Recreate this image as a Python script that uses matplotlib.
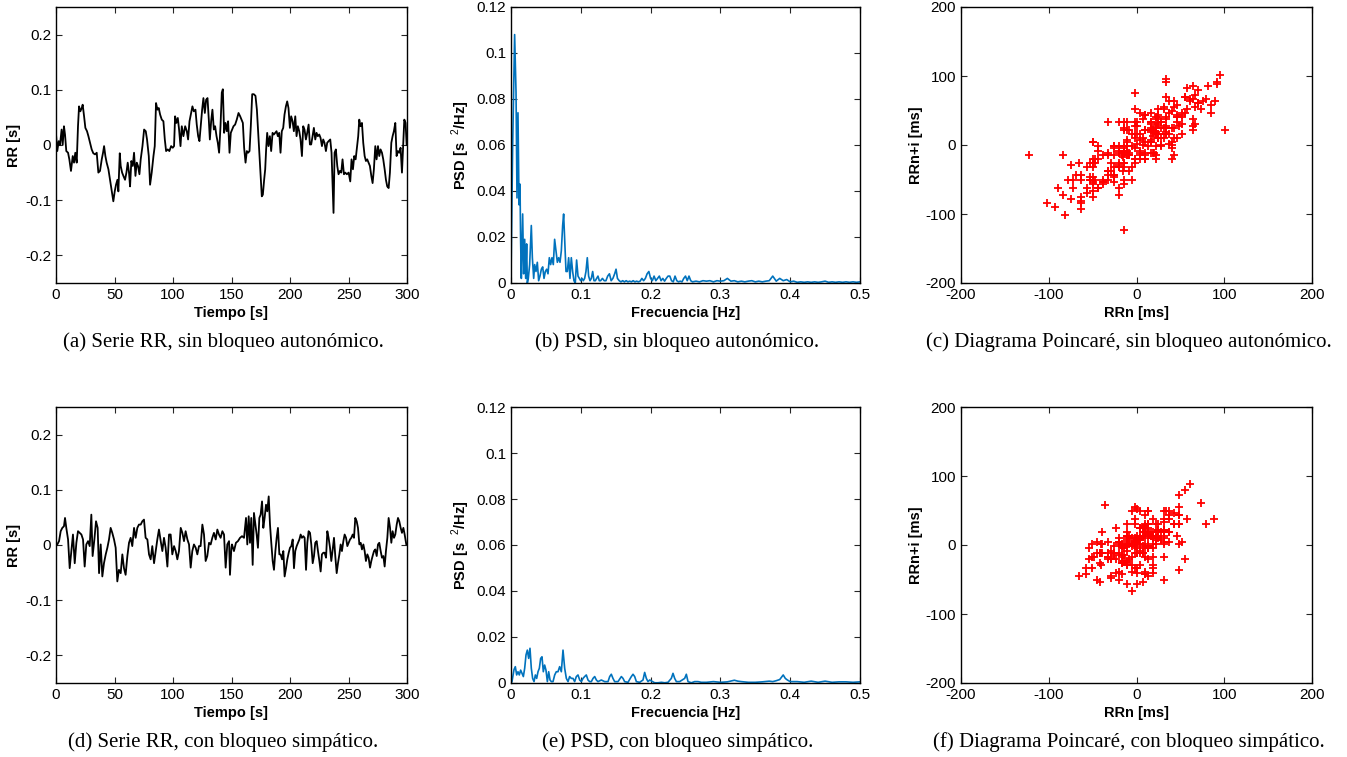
import matplotlib
matplotlib.use("Agg")
import matplotlib.pyplot as plt
import numpy as np
from matplotlib.ticker import FuncFormatter

plt.rcParams['font.family'] = ['Liberation Sans', 'DejaVu Sans']
plt.rcParams['axes.unicode_minus'] = False
plt.rcParams['mathtext.fontset'] = 'custom'
plt.rcParams['mathtext.rm'] = 'Liberation Sans'

# serie RR sin bloqueo (s)
t_a = [0.0, 1.1, 2.3, 3.4, 4.8, 5.7, 6.8, 7.7, 8.8, 10.3,
       11.4, 12.8, 14.3, 15.4, 16.5, 17.7, 18.8, 19.7, 20.8, 22.0,
       22.8, 24.0, 25.1, 26.5, 27.7, 29.1, 30.5, 31.9, 33.4, 34.8,
       36.2, 37.6, 39.1, 40.2, 41.1, 42.2, 43.3, 44.8, 46.2, 47.6,
       49.0, 50.2, 51.3, 52.5, 53.3, 54.5, 55.3, 56.5, 57.6, 59.0,
       60.2, 61.3, 62.4, 63.3, 64.4, 65.6, 66.7, 67.9, 69.0, 70.1,
       71.3, 72.4, 73.9, 75.3, 76.7, 77.8, 79.3, 80.4, 81.8, 83.3,
       84.4, 85.5, 86.7, 87.8, 89.0, 90.4, 91.8, 93.0, 94.1, 95.5,
       96.9, 98.4, 99.8, 100.9, 101.8, 102.9, 104.1, 105.2, 106.4, 107.5,
       108.9, 110.4, 111.8, 112.9, 114.1, 115.2, 116.6, 117.8, 119.2, 120.3,
       121.5, 122.6, 123.8, 124.9, 126.0, 127.2, 128.3, 129.5, 130.6, 131.5,
       132.6, 133.7, 134.9, 136.0, 137.2, 138.3, 139.4, 140.6, 141.7, 142.6,
       143.7, 144.9, 146.0, 147.1, 148.3, 149.4, 150.6, 151.7, 153.1, 154.5,
       156.0, 157.4, 158.5, 159.7, 160.8, 162.0, 163.1, 164.2, 165.4, 166.5,
       167.7, 169.1, 170.5, 171.7, 172.8, 173.9, 175.1, 175.9, 176.8, 177.9,
       178.8, 179.6, 180.5, 181.6, 182.8, 183.9, 185.1, 186.2, 187.3, 188.5,
       189.6, 190.8, 191.9, 193.0, 194.2, 195.3, 196.5, 197.6, 198.7, 199.9,
       201.0, 202.2, 203.3, 204.5, 205.6, 206.7, 207.9, 209.0, 210.2, 211.3,
       212.4, 213.6, 214.7, 215.9, 217.0, 218.1, 219.3, 220.4, 221.6, 222.7,
       223.8, 225.0, 226.1, 227.3, 228.4, 229.5, 230.7, 231.8, 233.0, 234.4,
       235.5, 237.2, 238.1, 239.2, 240.4, 241.5, 242.7, 243.8, 244.9, 246.1,
       247.2, 248.6, 250.1, 251.5, 252.6, 253.8, 254.9, 256.1, 257.2, 258.3,
       259.2, 260.3, 261.5, 262.6, 263.8, 264.9, 266.0, 267.2, 268.3, 269.5,
       270.6, 271.7, 272.9, 274.0, 275.2, 276.3, 277.4, 278.6, 279.7, 280.9,
       282.0, 283.1, 284.3, 285.4, 286.6, 287.7, 288.8, 290.0, 291.1, 292.3,
       293.4, 294.5, 295.7, 296.8, 297.7, 298.8, 299.7]
rr_a = [0.020, -0.011, 0.007, 0.000, 0.028, 0.000, 0.034, 0.019, -0.011, -0.014,
        -0.026, -0.047, -0.020, -0.032, -0.014, -0.032, 0.034, 0.070, 0.061, 0.067,
        0.073, 0.052, 0.031, 0.025, 0.016, 0.004, -0.008, -0.015, -0.017, -0.014,
        -0.050, -0.047, -0.026, -0.014, -0.002, -0.020, -0.032, -0.044, -0.063, -0.081,
        -0.102, -0.084, -0.072, -0.063, -0.084, -0.015, -0.038, -0.050, -0.056, -0.063,
        -0.050, -0.032, -0.050, -0.075, -0.029, -0.038, -0.014, -0.056, -0.032, -0.038,
        -0.053, -0.026, -0.002, 0.028, 0.025, 0.010, -0.020, -0.072, -0.050, -0.020,
        -0.002, 0.076, 0.064, 0.067, 0.055, 0.046, 0.043, 0.010, -0.011, -0.008,
        -0.011, -0.002, -0.005, -0.002, 0.052, 0.040, 0.049, 0.028, -0.002, 0.034,
        0.016, 0.034, 0.025, 0.010, 0.043, 0.055, 0.070, 0.061, 0.064, 0.037,
        0.016, 0.007, 0.037, 0.064, 0.085, 0.058, 0.082, 0.085, 0.046, 0.010,
        0.043, 0.064, 0.028, 0.034, 0.016, 0.004, -0.014, 0.034, 0.095, 0.101,
        0.022, 0.040, 0.025, 0.043, -0.014, 0.022, 0.028, 0.034, 0.037, 0.046,
        0.058, 0.052, 0.046, 0.040, -0.005, -0.032, -0.011, -0.014, -0.011, 0.034,
        0.092, 0.092, 0.089, 0.064, 0.022, -0.020, -0.063, -0.093, -0.090, -0.063,
        -0.044, -0.008, 0.022, -0.002, 0.016, -0.011, 0.022, 0.019, 0.022, 0.025,
        0.016, 0.022, -0.014, 0.025, 0.031, 0.055, 0.070, 0.079, 0.067, 0.031,
        0.052, 0.043, 0.025, 0.052, 0.016, 0.034, 0.025, 0.010, -0.020, 0.034,
        0.028, 0.010, 0.022, 0.037, 0.001, 0.001, 0.016, 0.031, 0.010, 0.022,
        0.016, 0.019, 0.013, -0.002, 0.010, 0.004, -0.011, 0.004, 0.007, 0.010,
        -0.014, -0.123, -0.014, -0.008, -0.038, -0.053, -0.047, -0.050, -0.026, -0.053,
        -0.050, -0.053, -0.050, -0.066, -0.026, -0.044, -0.020, -0.026, -0.005, 0.016,
        0.046, 0.034, 0.040, 0.004, -0.020, -0.029, -0.026, -0.032, -0.038, -0.056,
        -0.069, -0.044, -0.002, -0.026, -0.002, -0.020, -0.008, -0.014, -0.026, -0.044,
        -0.063, -0.075, -0.078, -0.050, 0.004, 0.016, 0.025, 0.040, -0.020, -0.011,
        -0.014, -0.005, -0.050, 0.004, 0.046, 0.040, 0.000]

# serie RR con bloqueo simpatico (s)
t_d = [0.0, 1.1, 2.6, 4.0, 5.4, 6.8, 7.7, 8.8, 10.3, 11.7,
       13.1, 14.5, 16.0, 17.4, 18.8, 20.2, 21.7, 23.1, 24.5, 25.9,
       27.4, 28.8, 30.2, 31.3, 32.8, 34.2, 35.6, 36.8, 38.2, 39.6,
       41.0, 42.5, 43.9, 45.3, 46.7, 48.1, 49.6, 51.0, 52.4, 53.8,
       55.3, 56.7, 58.1, 59.5, 61.0, 62.4, 63.8, 65.2, 66.7, 68.1,
       69.5, 70.9, 72.4, 73.8, 75.2, 76.6, 78.1, 79.5, 80.9, 82.3,
       83.8, 85.2, 86.6, 88.0, 89.5, 90.9, 92.3, 93.7, 95.2, 96.6,
       98.0, 99.4, 100.9, 102.3, 103.7, 105.1, 106.6, 108.0, 109.4, 110.8,
       112.3, 113.7, 115.1, 116.5, 117.9, 119.4, 120.8, 122.2, 123.6, 125.1,
       126.5, 127.9, 129.3, 130.8, 132.2, 133.6, 135.0, 136.5, 137.9, 139.3,
       140.7, 142.2, 143.6, 145.0, 146.4, 147.9, 148.7, 149.9, 150.4, 152.1,
       153.8, 155.5, 157.3, 159.0, 160.7, 162.4, 163.5, 164.7, 165.8, 166.9,
       168.1, 169.2, 170.4, 171.5, 172.6, 173.8, 174.9, 176.1, 177.2, 178.3,
       179.5, 180.6, 181.8, 182.9, 184.0, 185.2, 186.3, 187.5, 188.6, 189.7,
       190.9, 192.0, 193.2, 194.3, 195.4, 196.6, 197.7, 198.9, 200.0, 201.1,
       202.3, 203.4, 204.5, 205.7, 206.8, 208.0, 209.1, 210.2, 211.4, 212.5,
       213.7, 214.8, 215.9, 217.1, 218.2, 219.4, 220.5, 221.6, 222.8, 223.9,
       225.1, 226.2, 227.3, 228.5, 229.6, 230.8, 231.9, 233.0, 234.2, 235.3,
       236.5, 237.6, 238.7, 239.9, 241.0, 242.2, 243.3, 244.4, 245.6, 246.7,
       247.9, 249.0, 250.1, 251.3, 252.4, 253.6, 254.7, 255.8, 257.0, 258.1,
       259.3, 260.4, 261.5, 262.7, 263.8, 264.9, 266.1, 267.2, 268.4, 269.5,
       270.6, 271.8, 272.9, 274.1, 275.2, 276.3, 277.5, 278.6, 279.8, 280.9,
       282.0, 283.2, 284.3, 285.5, 286.6, 287.7, 288.9, 290.0, 291.2, 292.3,
       293.4, 294.6, 295.7, 296.9, 298.0, 299.4]
rr_d = [-0.002, 0.001, 0.007, 0.025, 0.031, 0.034, 0.049, 0.031, 0.010, -0.042,
        -0.011, 0.019, -0.033, 0.004, 0.025, 0.022, 0.019, 0.010, -0.039, 0.001,
        0.007, -0.002, 0.055, -0.020, 0.010, 0.043, 0.031, -0.051, 0.001, -0.057,
        -0.033, -0.017, -0.005, 0.010, 0.031, 0.022, 0.010, -0.005, -0.066, -0.045,
        -0.051, -0.017, -0.042, -0.054, -0.020, 0.004, 0.013, -0.002, 0.031, 0.013,
        0.031, 0.037, 0.037, 0.043, 0.046, 0.013, 0.010, -0.017, -0.026, -0.002,
        -0.033, -0.011, 0.010, 0.028, 0.007, -0.011, 0.013, -0.005, -0.039, 0.019,
        0.019, -0.017, -0.002, -0.011, -0.026, -0.011, 0.031, 0.022, 0.007, 0.025,
        0.010, 0.001, -0.041, -0.011, 0.001, -0.005, -0.017, -0.002, -0.002, 0.037,
        0.019, -0.029, -0.020, 0.004, 0.001, 0.013, 0.022, 0.010, 0.028, 0.019,
        0.013, 0.025, 0.019, -0.041, 0.001, 0.007, -0.054, -0.005, 0.001, -0.011,
        0.004, 0.007, 0.013, 0.016, 0.013, 0.049, 0.001, 0.052, 0.004, 0.049,
        -0.036, 0.058, 0.037, 0.019, -0.005, 0.049, 0.055, 0.079, 0.031, 0.049,
        0.073, 0.061, 0.088, 0.037, 0.004, -0.029, -0.045, -0.011, 0.013, 0.031,
        -0.017, -0.017, -0.026, -0.011, -0.057, -0.042, -0.026, -0.014, -0.005, -0.002,
        0.010, -0.042, -0.011, -0.002, 0.004, 0.010, 0.019, 0.013, 0.016, 0.013,
        -0.045, 0.004, 0.025, 0.022, 0.001, -0.033, -0.020, 0.004, 0.007, -0.011,
        -0.029, -0.048, -0.017, -0.014, -0.014, -0.023, 0.025, 0.013, -0.005, -0.029,
        -0.008, 0.013, -0.020, -0.051, -0.033, -0.017, 0.001, -0.011, 0.007, 0.019,
        0.013, -0.002, 0.004, 0.010, 0.013, 0.019, 0.013, 0.049, 0.043, 0.031,
        0.001, 0.004, -0.008, 0.001, -0.011, -0.029, -0.017, -0.023, -0.041, -0.029,
        -0.020, -0.011, -0.008, -0.020, 0.001, 0.004, -0.011, -0.023, -0.020, -0.039,
        -0.011, 0.013, 0.049, 0.031, 0.004, 0.025, 0.013, 0.019, 0.037, 0.049,
        0.043, 0.031, 0.022, 0.031, 0.019, 0.001]

# PSD sin bloqueo (s^2/Hz)
f_b = [0.0, 0.0024, 0.0052, 0.0062, 0.0072, 0.0086, 0.0100, 0.0115, 0.0129, 0.0138,
       0.0148, 0.0167, 0.0181, 0.0196, 0.0210, 0.0224, 0.0234, 0.0248, 0.0267, 0.0291,
       0.0306, 0.0325, 0.0339, 0.0358, 0.0377, 0.0396, 0.0415, 0.0435, 0.0454, 0.0473,
       0.0492, 0.0511, 0.0530, 0.0549, 0.0568, 0.0587, 0.0606, 0.0625, 0.0645, 0.0664,
       0.0683, 0.0702, 0.0721, 0.0740, 0.0754, 0.0769, 0.0788, 0.0807, 0.0826, 0.0845,
       0.0864, 0.0883, 0.0902, 0.0921, 0.0940, 0.0960, 0.0979, 0.0998, 0.1017, 0.1036,
       0.1055, 0.1074, 0.1093, 0.1112, 0.1132, 0.1151, 0.1170, 0.1189, 0.1208, 0.1227,
       0.1246, 0.1265, 0.1284, 0.1310, 0.1335, 0.1360, 0.1385, 0.1410, 0.1435, 0.1460,
       0.1485, 0.1505, 0.1525, 0.1550, 0.1575, 0.1600, 0.1625, 0.1650, 0.1675, 0.1700,
       0.1725, 0.1750, 0.1775, 0.1800, 0.1825, 0.1850, 0.1875, 0.1900, 0.1925, 0.1950,
       0.1975, 0.2000, 0.2025, 0.2050, 0.2075, 0.2100, 0.2125, 0.2150, 0.2175, 0.2200,
       0.2225, 0.2250, 0.2275, 0.2300, 0.2325, 0.2350, 0.2375, 0.2400, 0.2425, 0.2450,
       0.2475, 0.2500, 0.2525, 0.2550, 0.2575, 0.2600, 0.265, 0.270, 0.275, 0.280,
       0.285, 0.290, 0.295, 0.300, 0.305, 0.310, 0.315, 0.320, 0.325, 0.330,
       0.335, 0.340, 0.345, 0.350, 0.355, 0.360, 0.365, 0.370, 0.375, 0.380,
       0.385, 0.390, 0.395, 0.400, 0.405, 0.410, 0.415, 0.420, 0.425, 0.430,
       0.435, 0.440, 0.445, 0.450, 0.455, 0.460, 0.465, 0.470, 0.475, 0.480,
       0.485, 0.490, 0.495, 0.500]
psd_b = [0.003, 0.060, 0.108, 0.095, 0.083, 0.037, 0.074, 0.034, 0.043, 0.018,
         0.002, 0.030, 0.004, 0.019, 0.002, 0.017, 0.000, 0.002, 0.008, 0.025,
         0.011, 0.002, 0.008, 0.005, 0.009, 0.001, 0.003, 0.006, 0.007, 0.002,
         0.005, 0.006, 0.004, 0.011, 0.008, 0.011, 0.008, 0.019, 0.014, 0.009,
         0.011, 0.009, 0.014, 0.025, 0.030, 0.019, 0.005, 0.005, 0.011, 0.002,
         0.011, 0.005, 0.001, 0.000, 0.010, 0.003, 0.002, 0.001, 0.002, 0.001,
         0.002, 0.005, 0.011, 0.003, 0.001, 0.002, 0.005, 0.001, 0.001, 0.002,
         0.003, 0.001, 0.001, 0.002, 0.001, 0.001, 0.003, 0.004, 0.001, 0.002,
         0.004, 0.006, 0.002, 0.001, 0.0005, 0.001, 0.0005, 0.001, 0.0005, 0.0008,
         0.0005, 0.001, 0.0005, 0.0008, 0.0005, 0.0008, 0.002, 0.001, 0.002, 0.004,
         0.005, 0.002, 0.001, 0.003, 0.001, 0.002, 0.003, 0.001, 0.002, 0.0008,
         0.002, 0.003, 0.003, 0.001, 0.0005, 0.003, 0.001, 0.0005, 0.0008, 0.0005,
         0.002, 0.003, 0.001, 0.003, 0.001, 0.0005, 0.0008, 0.0005, 0.001, 0.0008,
         0.001, 0.0005, 0.001, 0.0008, 0.001, 0.002, 0.0008, 0.001, 0.0005, 0.0008,
         0.0005, 0.0008, 0.001, 0.0005, 0.0008, 0.0005, 0.0008, 0.001, 0.003, 0.0008,
         0.002, 0.001, 0.0015, 0.0005, 0.0008, 0.0003, 0.0005, 0.0003, 0.0005, 0.0003,
         0.0005, 0.0003, 0.0005, 0.0008, 0.0003, 0.0005, 0.0003, 0.0005, 0.0003, 0.0005,
         0.0003, 0.0005, 0.0003, 0.0005]

# PSD con bloqueo simpatico (s^2/Hz)
f_e = [0.0014, 0.0043, 0.0062, 0.0081, 0.0100, 0.0119, 0.0138, 0.0158, 0.0177, 0.0196,
       0.0215, 0.0234, 0.0253, 0.0272, 0.0291, 0.0310, 0.0330, 0.0349, 0.0368, 0.0387,
       0.0406, 0.0425, 0.0444, 0.0463, 0.0482, 0.0501, 0.0521, 0.0540, 0.0559, 0.0578,
       0.0602, 0.0626, 0.0649, 0.0673, 0.0697, 0.0721, 0.0745, 0.0769, 0.0793, 0.0817,
       0.0840, 0.0864, 0.0888, 0.0912, 0.0936, 0.0960, 0.0984, 0.1008, 0.1032, 0.1055,
       0.1079, 0.1103, 0.1127, 0.1151, 0.1175, 0.1199, 0.1223, 0.1246, 0.1294, 0.1342,
       0.1390, 0.1414, 0.1437, 0.1461, 0.1485, 0.1533, 0.1581, 0.1605, 0.1628, 0.1676,
       0.1724, 0.1748, 0.1772, 0.1796, 0.1843, 0.1891, 0.1915, 0.1939, 0.1963, 0.1987,
       0.2011, 0.2058, 0.2106, 0.2154, 0.2202, 0.2249, 0.2297, 0.2321, 0.2345, 0.2369,
       0.2416, 0.2488, 0.2512, 0.2536, 0.2584, 0.2631, 0.2679, 0.2727, 0.280, 0.290,
       0.300, 0.310, 0.320, 0.325, 0.330, 0.340, 0.350, 0.360, 0.370, 0.375,
       0.380, 0.385, 0.390, 0.393, 0.396, 0.400, 0.410, 0.420, 0.430, 0.440,
       0.450, 0.460, 0.470, 0.480, 0.490, 0.500]
psd_e = [0.0006, 0.0058, 0.0071, 0.0035, 0.0049, 0.0035, 0.0056, 0.0042, 0.0028, 0.0064,
         0.0122, 0.0143, 0.0107, 0.0151, 0.0064, 0.0020, 0.0006, 0.0035, 0.0020, 0.0049,
         0.0064, 0.0107, 0.0114, 0.0049, 0.0078, 0.0056, 0.0006, 0.0049, 0.0013, 0.0006,
         0.0006, 0.0035, 0.0049, 0.0049, 0.0071, 0.0049, 0.0143, 0.0064, 0.0020, 0.0006,
         0.0028, 0.0020, 0.0020, 0.0006, 0.0028, 0.0035, 0.0013, 0.0006, 0.0020, 0.0028,
         0.0035, 0.0013, 0.0006, 0.0006, 0.0020, 0.0028, 0.0013, 0.0006, 0.0013, 0.0006,
         0.0006, 0.0028, 0.0038, 0.0020, 0.0006, 0.0006, 0.0028, 0.0020, 0.0006, 0.0003,
         0.0028, 0.0038, 0.0028, 0.0006, 0.0003, 0.0013, 0.0046, 0.0020, 0.0006, 0.0013,
         0.0009, 0.0001, 0.0001, 0.0003, 0.0001, 0.0003, 0.0020, 0.0042, 0.0020, 0.0006,
         0.0006, 0.0020, 0.0038, 0.0006, 0.0001, 0.0006, 0.0006, 0.0003, 0.0003, 0.0006,
         0.0003, 0.0005, 0.0012, 0.0008, 0.0006, 0.0003, 0.0003, 0.0005, 0.0008, 0.0006,
         0.0010, 0.0015, 0.0035, 0.0020, 0.0013, 0.0006, 0.0006, 0.0003, 0.0008, 0.0003,
         0.0008, 0.0003, 0.0005, 0.0005, 0.0003, 0.0005]

captions = ['(a) Serie RR, sin bloqueo autonómico.',
            '(b) PSD, sin bloqueo autonómico.',
            '(c) Diagrama Poincaré, sin bloqueo autonómico.',
            '(d) Serie RR, con bloqueo simpático.',
            '(e) PSD, con bloqueo simpático.',
            '(f) Diagrama Poincaré, con bloqueo simpático.']

W, H = 1347, 757
fig = plt.figure(figsize=(W / 100, H / 100), dpi=100)

lefts = [56, 511, 961]
widths = [351, 349, 351]
tops = [7, 407]
bottoms = [283, 683]
cap_y = [342, 742]

fmt = FuncFormatter(lambda v, p: '%g' % round(v, 6))


def make_ax(col, row):
    l, w = lefts[col], widths[col]
    t, b = tops[row], bottoms[row]
    ax = fig.add_axes([l / W, 1 - b / H, w / W, (b - t) / H])
    ax.tick_params(direction='in', top=True, right=True, length=4,
                   width=0.8, labelsize=11, colors='#262626')
    ax.tick_params(labelcolor='black')
    for s in ax.spines.values():
        s.set_linewidth(1.0)
    ax.xaxis.set_major_formatter(fmt)
    ax.yaxis.set_major_formatter(fmt)
    fig.text((l + w / 2 - 8) / W, 1 - cap_y[row] / H, captions[row * 3 + col],
             family='Liberation Serif', fontsize=15, ha='center', va='center')
    return ax


lab = dict(fontsize=10.5, fontweight='bold')

for row, (t, rr, f, p) in enumerate([(t_a, rr_a, f_b, psd_b),
                                     (t_d, rr_d, f_e, psd_e)]):
    ax = make_ax(0, row)
    ax.plot(t, rr, color='black', lw=1.3)
    ax.set_xlim(0, 300)
    ax.set_ylim(-0.25, 0.25)
    ax.set_xticks([0, 50, 100, 150, 200, 250, 300])
    ax.set_yticks([-0.2, -0.1, 0, 0.1, 0.2])
    ax.set_xlabel('Tiempo [s]', labelpad=3, **lab)
    ax.set_ylabel('RR [s]', labelpad=3, **lab)

    ax = make_ax(1, row)
    ax.plot(f, p, color='#0072BD', lw=1.2)
    ax.set_xlim(0, 0.5)
    ax.set_ylim(0, 0.12)
    ax.set_xticks([0, 0.1, 0.2, 0.3, 0.4, 0.5])
    ax.set_yticks([0, 0.02, 0.04, 0.06, 0.08, 0.1, 0.12])
    ax.set_xlabel('Frecuencia [Hz]', labelpad=3, **lab)
    ax.set_ylabel('PSD [s  $^{2}$/Hz]', labelpad=3, **lab)

    ax = make_ax(2, row)
    rr_ms = np.array(rr) * 1000
    ax.plot(rr_ms[:-1], rr_ms[1:], '+', color='red', ms=5.5, mew=1.3)
    ax.set_xlim(-200, 200)
    ax.set_ylim(-200, 200)
    ax.set_xticks([-200, -100, 0, 100, 200])
    ax.set_yticks([-200, -100, 0, 100, 200])
    ax.set_xlabel('RRn [ms]', labelpad=3, **lab)
    ax.set_ylabel('RRn+i [ms]', labelpad=2, **lab)

fig.savefig('out.png', dpi=100)
